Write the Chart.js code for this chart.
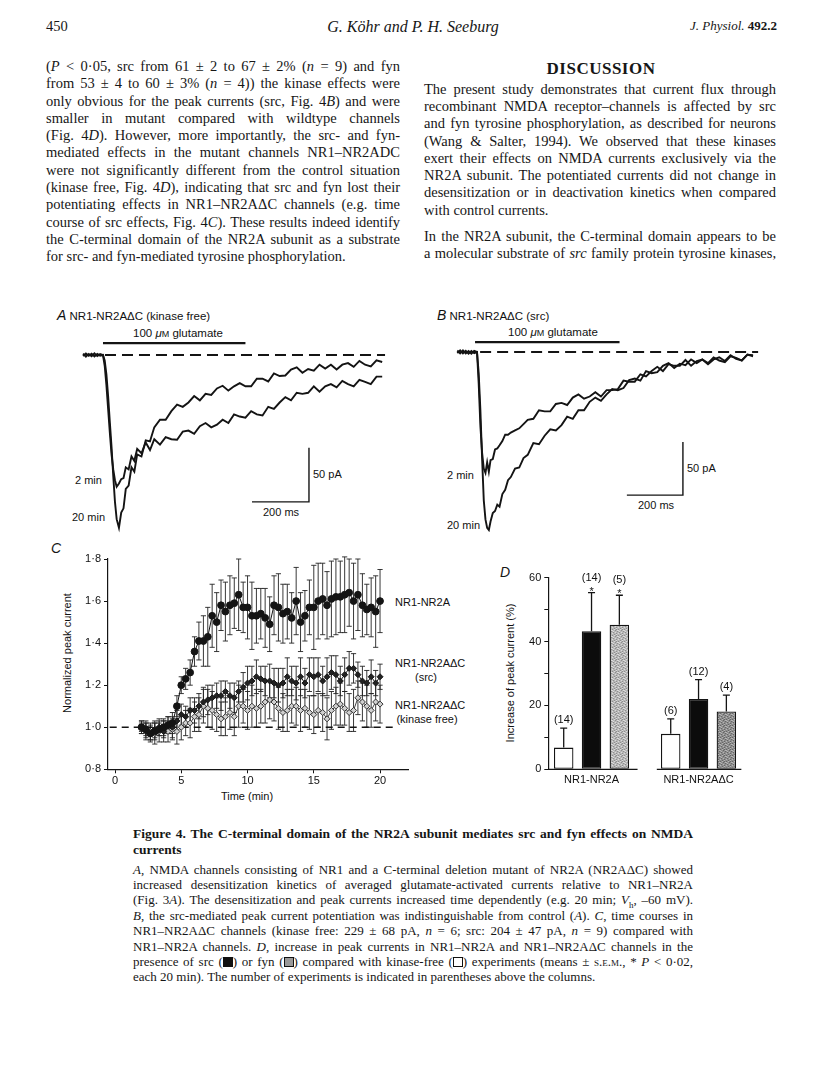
<!DOCTYPE html>
<html>
<head>
<meta charset="utf-8">
<script src="https://cdn.jsdelivr.net/npm/chart.js@4.4.0/dist/chart.umd.min.js"></script>
<style>
  body { margin: 0; background: #fff; }
  #page { position: relative; width: 816px; height: 1071px; overflow: hidden; color: #161616; font-family: 'Liberation Serif', serif; }
  .abs { position: absolute; white-space: nowrap; }
  .col { position: absolute; }
  .jl { text-align: justify; text-align-last: justify; }
  .jl.last { text-align-last: left; }
  .body { font-size: 14.5px; line-height: 17.3px; }
  .cap { font-size: 13px; line-height: 15.4px; }
  .sans { font-family: 'Liberation Sans', Arial, sans-serif; font-size: 11px; color: #111; }
  .mid { transform: translateY(-50%); }
  .ctr { transform: translate(-50%, -50%); }
  .rot { transform: translate(-50%, -50%) rotate(-90deg); }
  .pl { font-family: 'Liberation Sans', Arial, sans-serif; font-style: italic; font-size: 14px; }
  .sq { display: inline-block; width: 8px; height: 8px; border: 1px solid #111; vertical-align: -1px; }
  sub { font-size: 9px; line-height: 0; }
  canvas { position: absolute; }
</style>
</head>
<body>
<div id="page">

  <!-- running head -->
  <div class="abs mid" style="left:46px; top:26px; font-size:14.5px;">450</div>
  <div class="abs ctr" style="left:413px; top:27px; font-size:16px; font-style:italic;">G. Köhr and P. H. Seeburg</div>
  <div class="abs mid" style="right:39px; top:26px; font-size:13px;"><i>J. Physiol.</i> <b>492.2</b></div>

  <!-- left column -->
  <div class="col body" style="left:46px; top:58px; width:354px;">
    <div class="jl">(<i>P</i> &lt; 0·05, src from 61 ± 2 to 67 ± 2% (<i>n</i> = 9) and fyn</div>
    <div class="jl">from 53 ± 4 to 60 ± 3% (<i>n</i> = 4)) the kinase effects were</div>
    <div class="jl">only obvious for the peak currents (src, Fig. 4<i>B</i>) and were</div>
    <div class="jl">smaller in mutant compared with wildtype channels</div>
    <div class="jl">(Fig. 4<i>D</i>). However, more importantly, the src- and fyn-</div>
    <div class="jl">mediated effects in the mutant channels NR1–NR2ADC</div>
    <div class="jl">were not significantly different from the control situation</div>
    <div class="jl">(kinase free, Fig. 4<i>D</i>), indicating that src and fyn lost their</div>
    <div class="jl">potentiating effects in NR1–NR2AΔC channels (e.g. time</div>
    <div class="jl">course of src effects, Fig. 4<i>C</i>). These results indeed identify</div>
    <div class="jl">the C-terminal domain of the NR2A subunit as a substrate</div>
    <div class="jl last">for src- and fyn-mediated tyrosine phosphorylation.</div>
  </div>

  <!-- right column -->
  <div class="abs ctr" style="left:601px; top:69px; font-size:17px; font-weight:bold; letter-spacing:0.5px;">DISCUSSION</div>
  <div class="col body" style="left:424px; top:80.7px; width:352px;">
    <div class="jl">The present study demonstrates that current flux through</div>
    <div class="jl">recombinant NMDA receptor–channels is affected by src</div>
    <div class="jl">and fyn tyrosine phosphorylation, as described for neurons</div>
    <div class="jl">(Wang &amp; Salter, 1994). We observed that these kinases</div>
    <div class="jl">exert their effects on NMDA currents exclusively via the</div>
    <div class="jl">NR2A subunit. The potentiated currents did not change in</div>
    <div class="jl">desensitization or in deactivation kinetics when compared</div>
    <div class="jl last">with control currents.</div>
  </div>
  <div class="col body" style="left:424px; top:228px; width:352px;">
    <div class="jl">In the NR2A subunit, the C-terminal domain appears to be</div>
    <div class="jl">a molecular substrate of <i>src</i> family protein tyrosine kinases,</div>
  </div>

  <!-- panel A -->
  <div class="abs sans mid" style="left:57px; top:315px; font-size:11.5px;"><span class="pl">A</span> NR1-NR2AΔC (kinase free)</div>
  <div class="abs sans mid" style="left:133px; top:333px; font-size:11.5px;">100 <i>μ</i><span style="font-size:9px;">M</span> glutamate</div>
  <div class="abs sans mid" style="left:75px; top:480px;">2 min</div>
  <div class="abs sans mid" style="left:72px; top:517px;">20 min</div>
  <div class="abs sans mid" style="left:313px; top:474px;">50 pA</div>
  <div class="abs sans mid" style="left:263px; top:512px;">200 ms</div>
  <canvas id="traceA" width="310" height="215" style="left:80px; top:320px;"></canvas>

  <!-- panel B -->
  <div class="abs sans mid" style="left:437px; top:315px; font-size:11.5px;"><span class="pl">B</span> NR1-NR2AΔC (src)</div>
  <div class="abs sans mid" style="left:508px; top:332px; font-size:11.5px;">100 <i>μ</i><span style="font-size:9px;">M</span> glutamate</div>
  <div class="abs sans mid" style="left:447px; top:475px;">2 min</div>
  <div class="abs sans mid" style="left:447px; top:525px;">20 min</div>
  <div class="abs sans mid" style="left:687px; top:468px;">50 pA</div>
  <div class="abs sans mid" style="left:638px; top:505px;">200 ms</div>
  <canvas id="traceB" width="315" height="220" style="left:450px; top:318px;"></canvas>

  <!-- panel C -->
  <div class="abs pl ctr" style="left:56px; top:548px;">C</div>
  <div class="abs sans rot" style="left:67px; top:653px;">Normalized peak current</div>
  <div class="abs sans ctr" style="left:247px; top:796px;">Time (min)</div>
  <div class="abs sans mid" style="left:395px; top:602px;">NR1-NR2A</div>
  <div class="abs sans mid" style="left:395px; top:663px;">NR1-NR2AΔC</div>
  <div class="abs sans ctr" style="left:426px; top:677px;">(src)</div>
  <div class="abs sans mid" style="left:395px; top:705px;">NR1-NR2AΔC</div>
  <div class="abs sans ctr" style="left:427px; top:719px;">(kinase free)</div>
  <canvas id="timeCourse" width="430" height="260" style="left:40px; top:540px;"></canvas>

  <!-- panel D -->
  <div class="abs pl ctr" style="left:505px; top:572px;">D</div>
  <div class="abs sans rot" style="left:510px; top:673px;">Increase of peak current (%)</div>
  <canvas id="bars" width="300" height="250" style="left:480px; top:545px;"></canvas>

  <!-- legend -->
  <div class="col" style="left:133px; top:826px; width:560px; font-size:13.5px; line-height:16px; font-weight:bold;">
    <div class="jl">Figure 4. The C-terminal domain of the NR2A subunit mediates src and fyn effects on NMDA</div>
    <div class="jl last">currents</div>
  </div>
  <div class="col cap" style="left:133px; top:861.5px; width:560px;">
    <div class="jl"><i>A</i>, NMDA channels consisting of NR1 and a C-terminal deletion mutant of NR2A (NR2AΔC) showed</div>
    <div class="jl">increased desensitization kinetics of averaged glutamate-activated currents relative to NR1–NR2A</div>
    <div class="jl">(Fig. 3<i>A</i>). The desensitization and peak currents increased time dependently (e.g. 20 min; <i>V</i><sub>h</sub>, –60 mV).</div>
    <div class="jl"><i>B</i>, the src-mediated peak current potentiation was indistinguishable from control (<i>A</i>). <i>C</i>, time courses in</div>
    <div class="jl">NR1–NR2AΔC channels (kinase free: 229 ± 68 pA, <i>n</i> = 6; src: 204 ± 47 pA, <i>n</i> = 9) compared with</div>
    <div class="jl">NR1–NR2A channels. <i>D</i>, increase in peak currents in NR1–NR2A and NR1–NR2AΔC channels in the</div>
    <div class="jl">presence of src (<span class="sq" style="background:#111;"></span>) or fyn (<span class="sq" style="background:#999;"></span>) compared with kinase-free (<span class="sq" style="background:#fff;"></span>) experiments (means ± <span style="font-variant:small-caps;">s.e.m.</span>, * <i>P</i> &lt; 0·02,</div>
    <div class="jl last">each 20 min). The number of experiments is indicated in parentheses above the columns.</div>
  </div>
</div>

<script>
// ---- traces A and B (time in ms from glutamate onset, current in pA) ----
const traceMs = [-70, -60, -50, -40, -30, -20, -10, 0, 6, 12, 18, 24, 30, 36, 42, 48, 56, 64, 72, 80,
  90, 100, 110, 120, 135, 150, 165, 180, 200, 220, 240, 260, 280, 300, 320, 340, 360, 380,
  400, 420, 440, 460, 480, 500, 520, 540, 560, 580, 600, 620, 640, 660, 680, 700, 720, 740,
  760, 780, 800, 820, 840, 860, 880, 900, 920, 940, 960, 980];

const kinaseFree20min = [1.2, -1.5, 1.0, -1.2, 1.5, -1.0, 0.8, 0, -5, -18, -38, -62, -85, -112, -136, -152,
  -160, -146, -142, -124, -121, -104, -108, -92, -94, -79, -80, -67,
  -60, -60, -52, -46, -48, -44, -38, -42, -36, -37, -31, -28.5, -33, -29, -26, -29, -29, -22, -22, -24.5,
  -17, -19.5, -19, -13.5, -11.5, -16.5, -13, -14.5, -9, -12.5, -9, -13.5, -9, -7.5, -11, -5.5, -9, -10.5, -5, -6.5];
const kinaseFree2min = [-1.0, 1.4, -0.8, 1.2, -1.4, 0.9, -0.6, 0, -10, -28, -50, -72, -92, -106, -116, -122,
  -119, -115, -114, -104, -106, -94, -98, -87, -91, -81, -88, -78,
  -83, -76, -78, -78.5, -71, -70, -73, -66, -63, -67, -64.5, -60, -63, -55, -57, -58, -52, -55, -56, -48,
  -50, -44, -39, -42, -35, -36, -35, -29, -34, -29, -27, -30, -24, -27, -29, -23, -25, -27, -20, -20];
const src20min = [1.4, -1.2, 1.6, -1.4, 1.0, -1.6, 1.1, 0, -20, -55, -100, -140, -158, -166, -168, -160,
  -152, -150, -144, -146, -134, -130, -121, -118, -110, -109, -100, -97,
  -86, -87, -79, -73, -74, -69, -61, -63, -55, -55, -47, -43, -46, -40, -35, -36, -34, -26.5, -25, -27,
  -18, -20, -19, -13, -10.5, -15, -11, -12.5, -7, -10.5, -7, -11.5, -7, -5, -8.5, -3, -6.5, -8, -2.5, -4];
const src2min = [-1.0, 1.5, -1.3, 1.2, -1.6, 0.9, -1.1, 0, -30, -70, -95, -110, -114, -104, -113, -102,
  -101, -92, -91, -88, -84, -78, -78, -76, -74, -72, -68, -64,
  -63, -55, -56, -56, -49, -48, -50, -43, -40, -44, -42, -38, -42, -36, -36, -35, -27, -28, -28, -21,
  -23, -18, -14, -18, -11.5, -13, -13, -7.5, -13, -8.5, -7, -10.5, -5, -8, -9.5, -4, -5.5, -8, -2.5, -3];

// glutamate application bar, zero-current line and 200 ms / 50 pA scale bars
const glutamateA = [{ x: 0, y: 11 }, { x: 500, y: 11 }];
const glutamateB = [{ x: -7, y: 9.4 }, { x: 506, y: 9.4 }];
const zeroLineA = [{ x: 7, y: 0 }, { x: 990, y: 0 }];
const zeroLineB = [{ x: 11, y: 0 }, { x: 998, y: 0 }];
const scaleBarA = [{ x: 523, y: -136 }, { x: 723, y: -136 }, { x: 723, y: -86 }];
const scaleBarB = [{ x: 532, y: -135 }, { x: 731, y: -135 }, { x: 731, y: -85 }];

// ---- panel C: normalized peak current vs time (min) ----
const timeMin = [2.0, 2.33, 2.67, 3.0, 3.33, 3.67, 4.0, 4.33, 4.67, 5.0, 5.33, 5.67, 6.0, 6.33, 6.67,
  7.0, 7.33, 7.67, 8.0, 8.33, 8.67, 9.0, 9.33, 9.67, 10.0, 10.33, 10.67, 11.0, 11.33, 11.67,
  12.0, 12.33, 12.67, 13.0, 13.33, 13.67, 14.0, 14.33, 14.67, 15.0, 15.33, 15.67, 16.0, 16.33, 16.67,
  17.0, 17.33, 17.67, 18.0, 18.33, 18.67, 19.0, 19.33, 19.67, 20.0];
const nr2aMean = [1.00, 0.99, 0.97, 0.98, 0.99, 1.00, 1.01, 1.02, 1.10, 1.20,
  1.23, 1.26, 1.36, 1.41, 1.41, 1.43, 1.53, 1.50, 1.58, 1.55,
  1.58, 1.59, 1.63, 1.57, 1.57, 1.53, 1.53, 1.54, 1.52, 1.49,
  1.58, 1.57, 1.54, 1.55, 1.52, 1.60, 1.50, 1.53, 1.57, 1.57,
  1.60, 1.61, 1.58, 1.61, 1.62, 1.62, 1.63, 1.64, 1.60, 1.63,
  1.58, 1.56, 1.57, 1.55, 1.60];
const nr2aSem = [0.02, 0.03, 0.04, 0.04, 0.03, 0.04, 0.04, 0.05, 0.05, 0.04,
  0.05, 0.06, 0.07, 0.09, 0.12, 0.14, 0.15, 0.14, 0.12, 0.14,
  0.14, 0.12, 0.17, 0.12, 0.15, 0.16, 0.13, 0.12, 0.14, 0.13,
  0.14, 0.16, 0.14, 0.13, 0.12, 0.16, 0.14, 0.12, 0.13, 0.20,
  0.18, 0.17, 0.16, 0.18, 0.18, 0.17, 0.18, 0.16, 0.18, 0.17,
  0.15, 0.12, 0.14, 0.17, 0.15];
const dcSrcMean = [1.00, 0.98, 0.97, 0.99, 1.00, 0.98, 1.01, 1.00, 1.03, 1.06,
  1.05, 1.08, 1.08, 1.10, 1.12, 1.13, 1.14, 1.15, 1.15, 1.17,
  1.15, 1.14, 1.17, 1.19, 1.21, 1.22, 1.24, 1.23, 1.22, 1.22,
  1.21, 1.20, 1.21, 1.24, 1.22, 1.21, 1.24, 1.21, 1.25, 1.24,
  1.25, 1.22, 1.24, 1.26, 1.25, 1.22, 1.25, 1.28, 1.28, 1.25,
  1.22, 1.21, 1.24, 1.21, 1.24];
const dcSrcSem = [0.03, 0.04, 0.03, 0.04, 0.04, 0.05, 0.04, 0.05, 0.05, 0.05,
  0.05, 0.06, 0.06, 0.06, 0.07, 0.07, 0.06, 0.06, 0.07, 0.05,
  0.06, 0.07, 0.05, 0.07, 0.08, 0.07, 0.08, 0.06, 0.07, 0.08,
  0.07, 0.08, 0.07, 0.09, 0.07, 0.08, 0.09, 0.07, 0.08, 0.09,
  0.08, 0.07, 0.09, 0.08, 0.09, 0.07, 0.08, 0.08, 0.07, 0.06,
  0.07, 0.06, 0.08, 0.06, 0.06];
const dcFreeMean = [1.00, 0.99, 0.98, 0.97, 0.98, 0.99, 0.98, 0.99, 0.98, 1.00,
  1.02, 1.02, 1.05, 1.06, 1.10, 1.09, 1.08, 1.06, 1.04, 1.05,
  1.07, 1.05, 1.10, 1.10, 1.08, 1.10, 1.09, 1.10, 1.12, 1.13,
  1.12, 1.09, 1.07, 1.08, 1.10, 1.10, 1.08, 1.09, 1.07, 1.06,
  1.08, 1.07, 1.04, 1.08, 1.10, 1.11, 1.09, 1.07, 1.08, 1.14,
  1.12, 1.10, 1.08, 1.12, 1.11];
const dcFreeSem = [0.03, 0.04, 0.04, 0.05, 0.05, 0.04, 0.05, 0.05, 0.06, 0.06,
  0.06, 0.07, 0.07, 0.08, 0.08, 0.09, 0.09, 0.08, 0.08, 0.09,
  0.08, 0.09, 0.10, 0.08, 0.09, 0.10, 0.09, 0.08, 0.10, 0.09,
  0.09, 0.10, 0.09, 0.10, 0.08, 0.09, 0.10, 0.09, 0.08, 0.09,
  0.08, 0.09, 0.10, 0.09, 0.09, 0.10, 0.08, 0.09, 0.10, 0.08,
  0.09, 0.10, 0.08, 0.09, 0.09];
const controlLine = [{ x: -0.4, y: 1 }, { x: 21.2, y: 1 }];
const cTimeTicks = [0, 5, 10, 15, 20];
const cValueTicks = [0.8, 1.0, 1.2, 1.4, 1.6, 1.8];

// ---- panel D: increase of peak current (%) ----
const groupNames = ['NR1-NR2A', 'NR1-NR2AΔC'];
const freeIncrease = [6.8, 11.1];
const freeIncreaseSem = [6.1, 4.7];
const srcIncrease = [43.2, 22.0];
const srcIncreaseSem = [12.1, 6.1];
const fynIncrease = [45.3, 18.1];
const fynIncreaseSem = [9.2, 5.1];
const freeCount = [14, 6];
const srcCount = [14, 12];
const fynCount = [5, 4];
const srcSignificant = [true, false];
const fynSignificant = [true, false];
const dPercentTicks = [0, 10, 20, 30, 40, 50, 60];

Chart.defaults.font.family = "'Liberation Sans', Arial, sans-serif";
Chart.defaults.font.size = 11;
Chart.defaults.color = '#111';
Chart.defaults.animation = false;
Chart.defaults.plugins.legend.display = false;
Chart.defaults.plugins.tooltip.enabled = false;

const ink = '#141414';

function toPoints(xs, ys) {
  return xs.map((x, i) => ({ x: x, y: ys[i] }));
}

function traceChart(id, xRange, yRange, traces, glut, zero, bar) {
  const sets = traces.map(t => ({
    data: toPoints(traceMs, t), borderColor: ink, borderWidth: 1.9, pointRadius: 0, tension: 0
  }));
  sets.push({ data: glut, borderColor: ink, borderWidth: 2.2, pointRadius: 0 });
  sets.push({ data: zero, borderColor: ink, borderWidth: 2, borderDash: [11, 6], pointRadius: 0 });
  sets.push({ data: bar, borderColor: ink, borderWidth: 1.4, pointRadius: 0, tension: 0 });
  return new Chart(document.getElementById(id), {
    type: 'line',
    data: { datasets: sets },
    options: {
      responsive: false,
      layout: { padding: 0 },
      scales: {
        x: { type: 'linear', display: false, min: xRange[0], max: xRange[1] },
        y: { type: 'linear', display: false, min: yRange[0], max: yRange[1] }
      }
    }
  });
}

traceChart('traceA', [-80.7, 1007.4], [-166.7, 32.4], [kinaseFree2min, kinaseFree20min], glutamateA, zeroLineA, scaleBarA);
traceChart('traceB', [-95.9, 1022.4], [-175.5, 32.1], [src2min, src20min], glutamateB, zeroLineB, scaleBarB);

// vertical s.e.m. bars with caps for the time course
const semBars = {
  id: 'semBars',
  beforeDatasetsDraw(chart) {
    const { ctx, scales: { x, y } } = chart;
    ctx.save();
    ctx.strokeStyle = '#222';
    ctx.lineWidth = 0.9;
    chart.data.datasets.forEach(ds => {
      if (!ds.sem) return;
      ds.data.forEach((p, j) => {
        const px = x.getPixelForValue(p.x);
        const top = y.getPixelForValue(p.y + ds.sem[j]);
        const bot = y.getPixelForValue(p.y - ds.sem[j]);
        ctx.beginPath();
        ctx.moveTo(px, top); ctx.lineTo(px, bot);
        ctx.moveTo(px - 2.6, top); ctx.lineTo(px + 2.6, top);
        ctx.moveTo(px - 2.6, bot); ctx.lineTo(px + 2.6, bot);
        ctx.stroke();
      });
    });
    ctx.restore();
  }
};

new Chart(document.getElementById('timeCourse'), {
  type: 'line',
  data: {
    datasets: [
      {
        data: toPoints(timeMin, nr2aMean), sem: nr2aSem,
        borderColor: ink, borderWidth: 1, pointStyle: 'circle', pointRadius: 3.4,
        pointBackgroundColor: ink, pointBorderColor: ink, tension: 0
      },
      {
        data: toPoints(timeMin, dcSrcMean), sem: dcSrcSem,
        borderColor: ink, borderWidth: 1, pointStyle: 'rectRot', pointRadius: 3,
        pointBackgroundColor: '#222', pointBorderColor: ink, tension: 0
      },
      {
        data: toPoints(timeMin, dcFreeMean), sem: dcFreeSem,
        borderColor: '#444', borderWidth: 1, pointStyle: 'rectRot', pointRadius: 3,
        pointBackgroundColor: '#cfcfcf', pointBorderColor: '#333', pointBorderWidth: 1, tension: 0
      },
      {
        data: controlLine, borderColor: ink, borderWidth: 1.4, borderDash: [7, 5], pointRadius: 0
      }
    ]
  },
  options: {
    responsive: false,
    layout: { padding: { top: 19, right: 62, bottom: 0, left: 0 } },
    scales: {
      x: {
        type: 'linear', min: -0.53, max: 22.11,
        afterFit: s => { s.height = 30.7; },
        afterBuildTicks: s => { s.ticks = cTimeTicks.map(v => ({ value: v })); },
        grid: { display: true, drawOnChartArea: false, drawTicks: true, tickLength: 4, color: ink },
        border: { display: true, color: ink, width: 1.2 },
        ticks: { padding: 1, maxRotation: 0, color: '#111' }
      },
      y: {
        type: 'linear', min: 0.8, max: 1.8,
        afterFit: s => { s.width = 68; },
        afterBuildTicks: s => { s.ticks = cValueTicks.map(v => ({ value: v })); },
        grid: { display: true, drawOnChartArea: false, drawTicks: true, tickLength: 4, color: ink },
        border: { display: true, color: ink, width: 1.2 },
        ticks: { padding: 3, color: '#111', callback: v => v.toFixed(1).replace('.', '·') }
      }
    }
  },
  plugins: [semBars]
});

// stippled grey fill for the fyn columns
function stipple(base, dark, light) {
  const c = document.createElement('canvas');
  c.width = 6; c.height = 6;
  const g = c.getContext('2d');
  g.fillStyle = base; g.fillRect(0, 0, 6, 6);
  g.fillStyle = dark;
  [[0, 0], [3, 1], [1, 3], [4, 4], [2, 5], [5, 2], [4, 0]].forEach(p => g.fillRect(p[0], p[1], 1, 1));
  g.fillStyle = light;
  [[2, 0], [5, 1], [0, 4], [3, 3], [4, 5], [1, 2], [0, 1]].forEach(p => g.fillRect(p[0], p[1], 1, 1));
  return g.createPattern(c, 'repeat');
}
const fynFill = [stipple('#b7b7b7', '#8e8e8e', '#dadada'), stipple('#8d8d8d', '#666', '#b4b4b4')];

// error caps, n labels, significance stars and the broken baseline
const columnExtras = {
  id: 'columnExtras',
  afterDatasetsDraw(chart) {
    const { ctx, scales: { x, y } } = chart;
    ctx.save();
    ctx.strokeStyle = ink;
    ctx.fillStyle = '#111';
    ctx.lineWidth = 1.3;
    ctx.textAlign = 'center';
    ctx.font = "11px 'Liberation Sans', Arial, sans-serif";
    chart.data.datasets.forEach((ds, i) => {
      const meta = chart.getDatasetMeta(i);
      meta.data.forEach((bar, j) => {
        const cap = y.getPixelForValue(ds.data[j].y + ds.sem[j]);
        ctx.beginPath();
        ctx.moveTo(bar.x, bar.y); ctx.lineTo(bar.x, cap);
        ctx.moveTo(bar.x - 3.5, cap); ctx.lineTo(bar.x + 3.5, cap);
        ctx.stroke();
        const star = ds.significant && ds.significant[j];
        ctx.textBaseline = 'middle';
        ctx.fillText('(' + ds.count[j] + ')', bar.x, cap - (star ? 15 : 8));
        if (star) {
          ctx.textBaseline = 'alphabetic';
          ctx.fillText('*', bar.x, cap + 2);
        }
      });
    });
    const y0 = y.getPixelForValue(0);
    ctx.lineWidth = 1.3;
    ctx.beginPath();
    ctx.moveTo(x.getPixelForValue(-0.404), y0); ctx.lineTo(x.getPixelForValue(0.43), y0);
    ctx.moveTo(x.getPixelForValue(0.61), y0); ctx.lineTo(x.getPixelForValue(1.40), y0);
    ctx.stroke();
    ctx.restore();
  }
};

new Chart(document.getElementById('bars'), {
  type: 'bar',
  data: {
    datasets: [
      {
        data: toPoints([0, 1], freeIncrease), sem: freeIncreaseSem, count: freeCount,
        backgroundColor: '#fff', borderColor: ink, borderWidth: 1.3, borderSkipped: false
      },
      {
        data: toPoints([0, 1], srcIncrease), sem: srcIncreaseSem, count: srcCount, significant: srcSignificant,
        backgroundColor: '#0c0c0c', borderColor: ink, borderWidth: 1.3, borderSkipped: false
      },
      {
        data: toPoints([0, 1], fynIncrease), sem: fynIncreaseSem, count: fynCount, significant: fynSignificant,
        backgroundColor: fynFill, borderColor: ink, borderWidth: 1.3, borderSkipped: false
      }
    ]
  },
  options: {
    responsive: false,
    categoryPercentage: 0.78,
    barPercentage: 0.7,
    layout: { padding: { top: 32.7, right: 33.3, bottom: 0, left: 0 } },
    scales: {
      x: {
        type: 'linear', min: -0.404, max: 1.45, offset: false,
        afterFit: s => { s.height = 25.7; },
        afterBuildTicks: s => { s.ticks = groupNames.map((n, i) => ({ value: i })); },
        grid: { display: false, drawTicks: false, tickLength: 0, offset: false },
        border: { display: false },
        ticks: { padding: 4, maxRotation: 0, autoSkip: false, color: '#111', callback: v => groupNames[v] }
      },
      y: {
        type: 'linear', min: 0, max: 60,
        afterFit: s => { s.width = 68.3; },
        afterBuildTicks: s => { s.ticks = dPercentTicks.map(v => ({ value: v })); },
        grid: { display: true, drawOnChartArea: false, drawTicks: true, tickLength: 4, color: ink },
        border: { display: true, color: ink, width: 1.2 },
        ticks: { padding: 3, color: '#111', callback: v => (v % 20 === 0 ? String(v) : '') }
      }
    }
  },
  plugins: [columnExtras]
});

// squeeze any justified line that would wrap onto a second line
document.querySelectorAll('.jl').forEach(el => {
  const lh = parseFloat(getComputedStyle(el).lineHeight);
  let ls = 0;
  while (el.getBoundingClientRect().height > lh * 1.5 && ls > -2) {
    ls -= 0.1;
    el.style.letterSpacing = ls.toFixed(2) + 'px';
  }
});
</script>
</body>
</html>
